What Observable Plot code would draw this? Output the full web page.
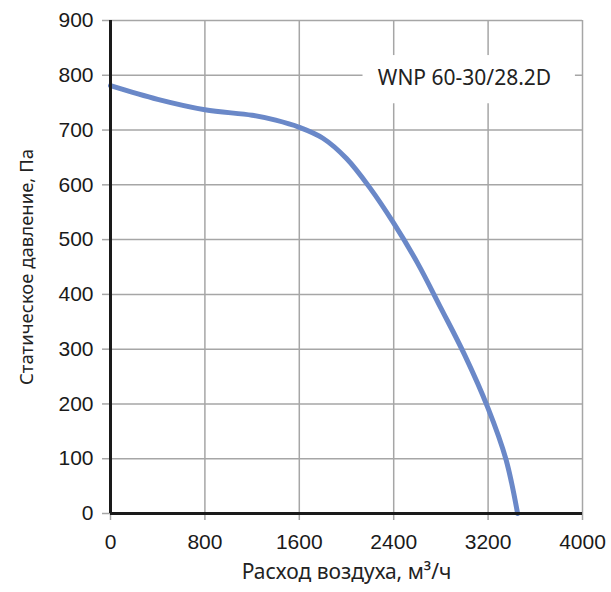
<!DOCTYPE html>
<html><head><meta charset="utf-8">
<script src="https://cdn.jsdelivr.net/npm/d3@7"></script>
<script src="https://cdn.jsdelivr.net/npm/@observablehq/plot@0.6"></script>
<style>body{margin:0;background:#fff}</style>
</head><body><div id="chart"></div>
<script>
const airflow = [0, 400, 800, 1200, 1400, 1600, 1800, 2000, 2200, 2400, 2600, 2800, 3000, 3200, 3350, 3450];
const pressure = [781, 756, 737, 727, 718, 705, 685, 648, 594, 530, 458, 375, 290, 192, 100, 0];
const xTicks = [0, 800, 1600, 2400, 3200, 4000];
const yTicks = [0, 100, 200, 300, 400, 500, 600, 700, 800, 900];
const seriesName = "WNP 60-30/28.2D";
const xTitle = "Расход воздуха, м³/ч";
const yTitle = "Статическое давление, Па";

const data = airflow.map((x, i) => ({x, y: pressure[i]}));
const gridColor = "#a6a6a6";
const titleFont = "Noto Sans, sans-serif";
const plot = Plot.plot({
  width: 611, height: 592,
  marginLeft: 110, marginRight: 29, marginTop: 20, marginBottom: 79,
  style: {fontFamily: "Liberation Sans, Arial, sans-serif", background: "#fff"},
  x: {domain: [0, 4000]},
  y: {domain: [0, 900]},
  marks: [
    Plot.ruleX(xTicks, {stroke: gridColor, strokeWidth: 1.5}),
    Plot.ruleY(yTicks, {stroke: gridColor, strokeWidth: 1.5}),
    Plot.rect([seriesName], {x1: 2140, x2: 3940, y1: 748, y2: 836, fill: "white"}),
    Plot.text([seriesName], {x: 3000, y: 794, fontSize: 21, fontFamily: titleFont, fill: "#222"}),
    Plot.axisX({ticks: xTicks, tickSize: 7, stroke: gridColor, strokeWidth: 1.5, tickFormat: () => "", label: null}),
    Plot.axisY({ticks: yTicks, tickSize: 8, stroke: gridColor, strokeWidth: 1.5, tickFormat: () => "", label: null}),
    Plot.axisX({ticks: xTicks, tickSize: 0, tickPadding: 21, fontSize: 21, fill: "#1a1a1a", fontWeight: "normal", label: null, tickFormat: d => String(d)}),
    Plot.axisY({ticks: yTicks, tickSize: 0, tickPadding: 17, fontSize: 21, fill: "#1a1a1a", fontWeight: "normal", label: null, tickFormat: d => String(d)}),
    Plot.line(data, {x: "x", y: "y", stroke: "#6a88c8", strokeWidth: 5, curve: "catmull-rom"}),
    Plot.ruleX([0], {stroke: "#1a1a1a", strokeWidth: 3}),
    Plot.ruleY([0], {stroke: "#1a1a1a", strokeWidth: 3}),
    Plot.text([yTitle], {frameAnchor: "left", textAnchor: "middle", dx: -83, rotate: -90, fontSize: 18.5, fontFamily: titleFont, fill: "#222"}),
    Plot.text([xTitle], {frameAnchor: "bottom", textAnchor: "middle", dy: 65, fontSize: 21, fontFamily: titleFont, fill: "#222"})
  ]
});
document.getElementById("chart").appendChild(plot);
</script>
</body></html>
